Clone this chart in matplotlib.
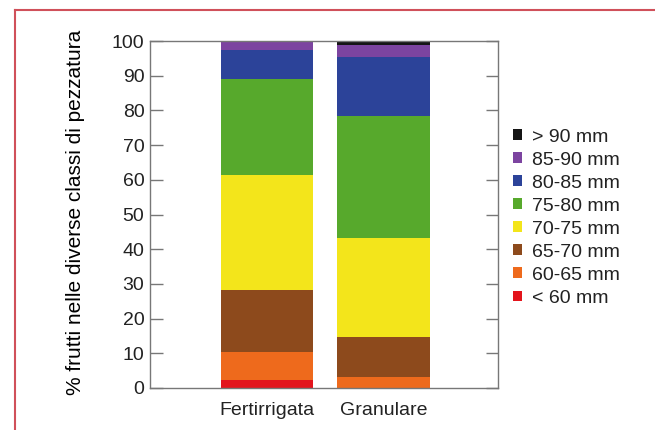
import matplotlib.pyplot as plt
import numpy as np

### Data
groups = ['Fertirrigata', 'Granulare']
classes = ['< 60 mm', '60-65 mm', '65-70 mm', '70-75 mm',
           '75-80 mm', '80-85 mm', '85-90 mm', '> 90 mm']
fertirrigata = [2.3, 8.2, 17.7, 33.2, 27.6, 8.4, 2.6, 0.0]
granulare = [0.0, 3.3, 11.3, 28.5, 35.3, 17.1, 3.3, 1.2]
colors = ['#e3141c', '#ee6a1c', '#8d4a1c', '#f3e51b',
          '#57a92c', '#2c4399', '#7c44a0', '#151515']
yticks = list(range(0, 101, 10))

plt.rcParams['font.family'] = ['Liberation Sans', 'DejaVu Sans']
plt.rcParams['text.color'] = '#222222'

fig = plt.figure(figsize=(6.55, 4.3), dpi=100)
ax = fig.add_axes([150 / 655, 1 - 388 / 430, 348 / 655, 347 / 430])

values = np.array([fertirrigata, granulare])
x = np.arange(len(groups))
bottom = np.zeros(len(groups))
for i, name in enumerate(classes):
    ax.bar(x, values[:, i], width=0.79, bottom=bottom, color=colors[i],
           label=name, linewidth=0)
    bottom += values[:, i]

ax.set_xlim(-1.0, 1.98)
ax.set_ylim(0, 100)
ax.set_yticks(yticks)
ax.set_xticks(x)
ax.set_xticklabels(groups, fontsize=14, color='#222222')
ax.tick_params(axis='x', length=0, pad=10)
ax.tick_params(axis='y', direction='in', length=9, width=1, color='#777777',
               labelsize=14, labelcolor='#222222', pad=4, right=True)
ax.set_ylabel('% frutti nelle diverse classi di pezzatura', fontsize=15)
ax.yaxis.set_label_coords(-0.187, 0.507)
for s in ax.spines.values():
    s.set_color('#777777')
    s.set_linewidth(1)

### Legend, highest class on top
handles, labels = ax.get_legend_handles_labels()
ax.legend(handles[::-1], labels[::-1], loc='center left',
          bbox_to_anchor=(1.043, 0.491), frameon=False, fontsize=14,
          handlelength=0.46, handleheight=0.46, handletextpad=0.52,
          labelspacing=0.31, borderaxespad=0, borderpad=0)

### Red frame on top and left
fig.add_artist(plt.Line2D([15 / 655, 1], [1 - 10 / 430, 1 - 10 / 430],
                          color='#d0505a', lw=1.5, transform=fig.transFigure))
fig.add_artist(plt.Line2D([15 / 655, 15 / 655], [0, 1 - 10 / 430],
                          color='#d0505a', lw=1.5, transform=fig.transFigure))

fig.savefig('out.png', dpi=100)
